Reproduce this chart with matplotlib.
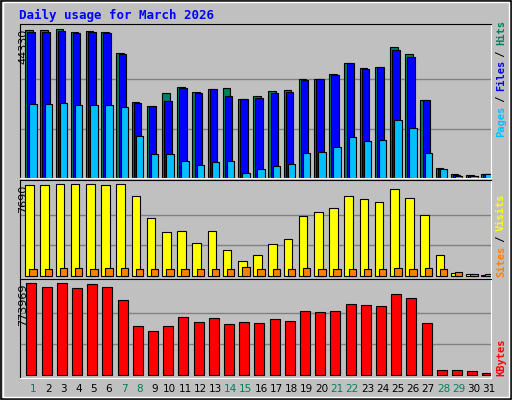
import numpy as np
import matplotlib.pyplot as plt

days = np.arange(1, 32)
weekend = [1, 7, 8, 14, 15, 21, 22, 28, 29]
hits_max, visits_max, kb_max = 44330, 7690, 773969

# values (pixel heights converted to units)
hits = np.array([437, 437, 440, 431, 434, 431, 368, 224, 212, 251, 269, 254, 263, 266, 233, 242,
                 257, 260, 293, 293, 308, 339, 326, 329, 386, 365, 230, 29, 11, 8, 11]) / 438 * hits_max
files = np.array([431, 431, 434, 428, 431, 428, 365, 221, 212, 227, 266, 251, 263, 242, 233, 236,
                  251, 254, 290, 293, 305, 339, 323, 329, 377, 356, 230, 26, 8, 5, 11]) / 438 * hits_max
pages = np.array([218, 218, 221, 215, 215, 215, 209, 125, 71, 71, 50, 38, 47, 50, 14, 26,
                  35, 41, 74, 77, 92, 122, 110, 113, 170, 149, 74, 26, 5, 5, 11]) / 438 * hits_max
visits = np.array([273, 273, 276, 276, 276, 273, 276, 240, 174, 132, 135, 99, 135, 78, 45, 63,
                   96, 111, 180, 192, 204, 240, 231, 222, 261, 234, 183, 63, 9, 6, 3]) / 276 * visits_max
sites = np.array([21, 21, 24, 24, 21, 24, 24, 21, 21, 21, 21, 21, 21, 21, 27, 21,
                  21, 21, 24, 21, 21, 21, 21, 21, 24, 21, 24, 21, 12, 6, 6]) / 276 * visits_max
kbytes = np.array([274, 261, 274, 258, 270, 261, 222, 144, 132, 144, 171, 156, 168, 150, 156, 153,
                   165, 159, 189, 186, 189, 210, 207, 204, 240, 228, 153, 15, 15, 12, 6]) / 274 * kb_max

bg = '#c0c0c0'
mono = 'DejaVu Sans Mono'
fig = plt.figure(figsize=(5.12, 4.0), dpi=100, facecolor=bg)
fig.patches.append(plt.Rectangle((0.002, 0.003), 0.996, 0.994, transform=fig.transFigure,
                                 fill=False, ec='black', lw=1.2))
fig.patches.append(plt.Rectangle((0.006, 0.008), 0.988, 0.986, transform=fig.transFigure,
                                 fill=False, ec='white', lw=1))
fig.text(0.037, 0.962, 'Daily usage for March 2026', color='#0000ff', fontsize=9,
         fontweight='bold', family=mono, va='center')

def panel(bottom, height, ylim, top_label):
    ax = fig.add_axes([20 / 512, bottom, 471 / 512, height], facecolor=bg)
    ax.set_xlim(0.145, 31.13)
    ax.set_ylim(*ylim)
    for y in (top_label / 3, 2 * top_label / 3):
        ax.axhline(y, color='#808080', lw=1, zorder=0)
    ax.set_xticks([]); ax.set_yticks([])
    ax.spines['top'].set_color('black'); ax.spines['left'].set_color('black')
    ax.spines['bottom'].set_color('white'); ax.spines['right'].set_color('white')
    fig.text(0.045, bottom + height - 0.012, str(top_label), rotation=90, fontsize=8,
             ha='center', va='top', family='DejaVu Sans')
    return ax

ax1 = panel(1 - 178 / 400, 154 / 400, (0, 46046), hits_max)
ax1.bar(days - 0.51, hits, width=0.49, align='edge', color='#00805c', ec='black', lw=0.8)
ax1.bar(days - 0.375, files, width=0.49, align='edge', color='#0000ff', ec='black', lw=0.8)
ax1.bar(days - 0.24, pages, width=0.49, align='edge', color='#00c0ff', ec='black', lw=0.8)

ax2 = panel(1 - 279 / 400, 99 / 400, (-251, 8052), visits_max)
ax2.bar(days - 0.51, visits, width=0.56, align='edge', color='#ffff00', ec='black', lw=0.8)
ax2.bar(days - 0.24, sites, width=0.49, align='edge', color='#ff8000', ec='black', lw=0.8)

ax3 = panel(1 - 378 / 400, 99 / 400, (-25400, 805000), kb_max)
ax3.bar(days - 0.44, kbytes, width=0.66, align='edge', color='#ff0000', ec='black', lw=0.8)

for d in days:
    fig.text((33 + (d - 1) * 15.2) / 512, 1 - 389 / 400, str(d), ha='center', va='center',
             fontsize=7.5, color='#00805c' if d in weekend else 'black', family='DejaVu Sans')

def side(ypos, parts):
    # stacked vertical labels on the right side, reading bottom to top
    y = ypos
    for txt, col in parts:
        fig.text(501 / 512, y, txt, rotation=90, color=col, fontsize=7.5, fontweight='bold',
                 family=mono, ha='center', va='bottom')
        y += len(txt) * 0.0143

side(1 - 137 / 400, [('Pages', '#00c0ff'), (' / ', 'black'), ('Files', '#0000ff'),
                    (' / ', 'black'), ('Hits', '#00805c')])
side(1 - 277 / 400, [('Sites', '#ff8000'), (' / ', 'black'), ('Visits', '#ffff00')])
side(1 - 376 / 400, [('KBytes', '#ff0000')])

fig.savefig('out.png', dpi=100, facecolor=bg)
